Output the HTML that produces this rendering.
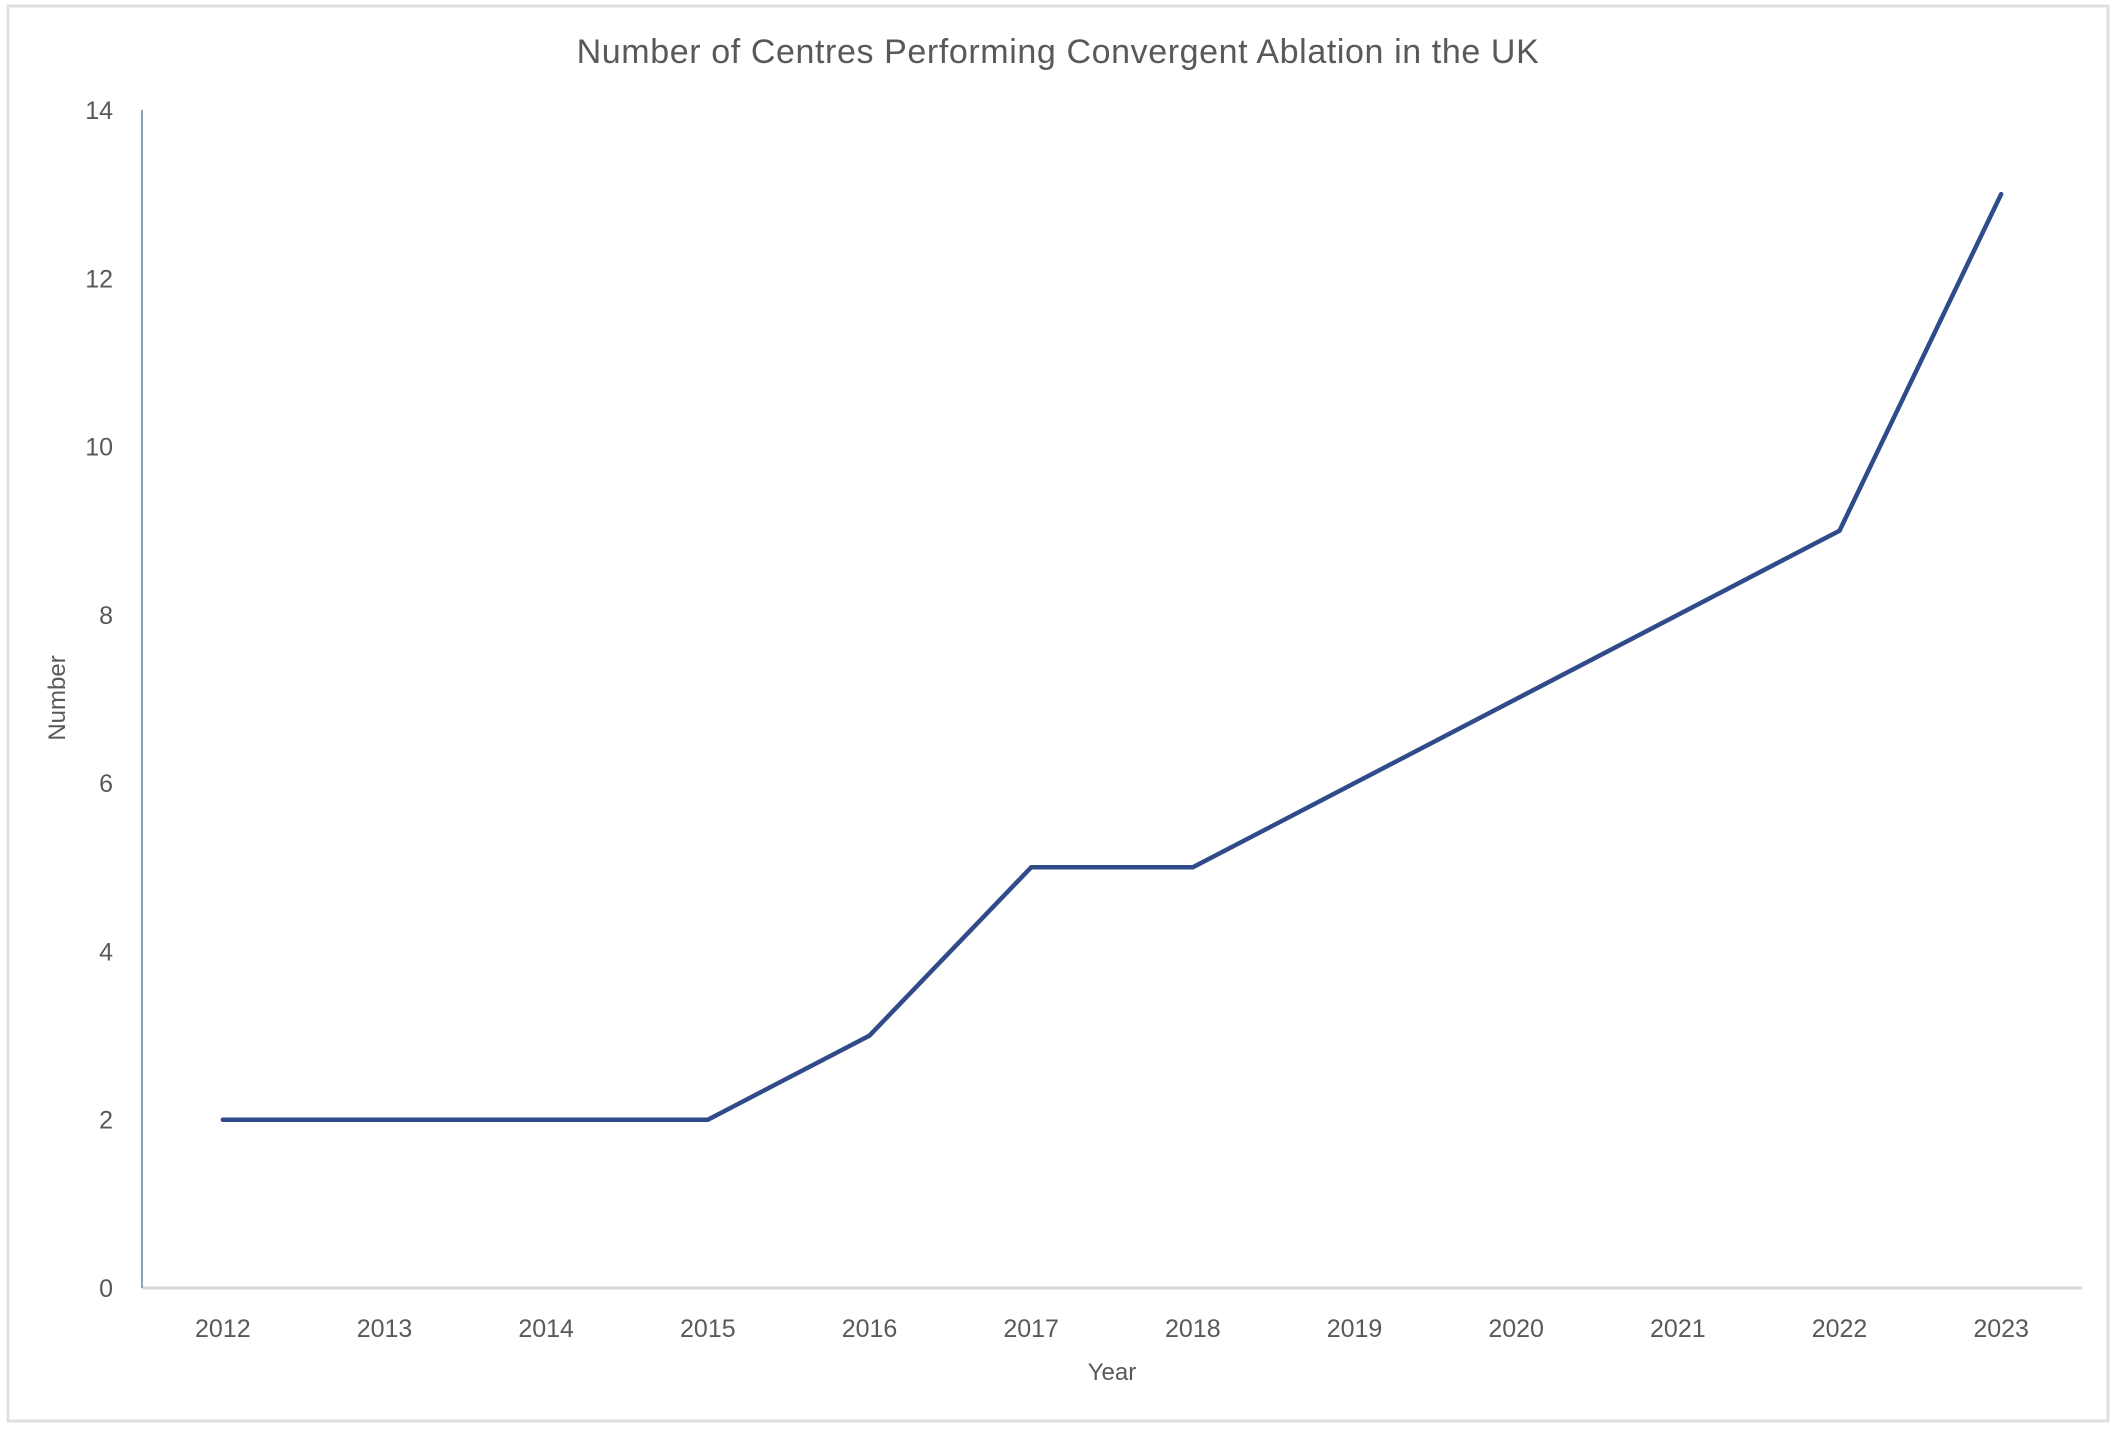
<!DOCTYPE html>
<html><head><meta charset="utf-8"><style>
html,body{margin:0;padding:0;background:#fff;}
svg{display:block;font-family:"Liberation Sans",sans-serif;}
</style></head><body>
<svg id="chart" width="2118" height="1430">
<rect x="8" y="6" width="2100" height="1415" fill="#fff" stroke="#e0e0e0" stroke-width="3"/>
<text x="1058" y="63" text-anchor="middle" font-size="34" letter-spacing="0.6" fill="#595959">Number of Centres Performing Convergent Ablation in the UK</text>
<line x1="142" y1="1288" x2="2082" y2="1288" stroke="#d9d9d9" stroke-width="3"/>
<line x1="142" y1="110" x2="142" y2="1288" stroke="#8fa0c0" stroke-width="2"/>
<text x="0" y="0" transform="translate(65,698) rotate(-90)" text-anchor="middle" font-size="24" fill="#595959">Number</text>
<text x="1112" y="1380" text-anchor="middle" font-size="24" fill="#595959">Year</text>
<g id="yticks"></g><g id="xticks"></g><g id="series"></g>
</svg>
<script>
const categories=["2012","2013","2014","2015","2016","2017","2018","2019","2020","2021","2022","2023"];
const values=[2,2,2,2,3,5,5,6,7,8,9,13];
const yTicks=[0,2,4,6,8,10,12,14];
const NS="http://www.w3.org/2000/svg";
const x0=142,x1=2082,yBase=1288,yTop=110,yMax=14;
const step=(x1-x0)/categories.length;
function xs(i){return x0+step*(i+0.5);}
function ys(v){return yBase-(yBase-yTop)*v/yMax;}
const yt=document.getElementById('yticks');
yTicks.forEach(t=>{
 const e=document.createElementNS(NS,'text');
 e.setAttribute('x',113);e.setAttribute('y',ys(t)+9);
 e.setAttribute('text-anchor','end');e.setAttribute('font-size','25');e.setAttribute('fill','#595959');
 
 
 e.textContent=t;yt.appendChild(e);
});
const xt=document.getElementById('xticks');
categories.forEach((c,i)=>{
 const e=document.createElementNS(NS,'text');
 e.setAttribute('x',xs(i));e.setAttribute('y',1337);
 e.setAttribute('text-anchor','middle');e.setAttribute('font-size','25');e.setAttribute('fill','#595959');
 
 
 e.textContent=c;xt.appendChild(e);
});
const p=document.createElementNS(NS,'polyline');
p.setAttribute('points',values.map((v,i)=>xs(i)+','+ys(v)).join(' '));
p.setAttribute('fill','none');p.setAttribute('stroke','#2f4b8a');p.setAttribute('stroke-width','4.5');
p.setAttribute('stroke-linejoin','round');p.setAttribute('stroke-linecap','round');


document.getElementById('series').appendChild(p);
</script>
</body></html>
